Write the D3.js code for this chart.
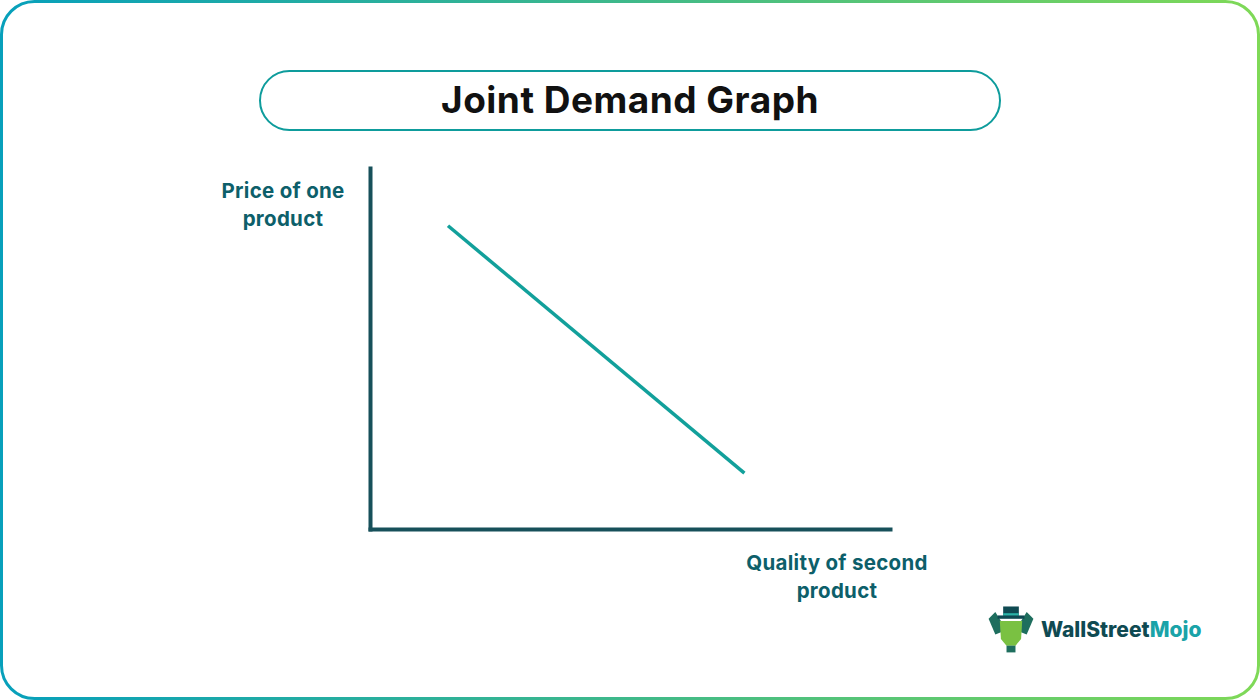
<!DOCTYPE html>
<html>
<head>
<meta charset="utf-8">
<script src="https://cdn.jsdelivr.net/npm/d3@7"></script>
<style>
  html, body { margin: 0; padding: 0; background: #ffffff; }
  svg { display: block; }
</style>
</head>
<body>
<svg id="chart" width="1260" height="700"></svg>
<script>
// ---- data ----
const chartTitle = "Joint Demand Graph";
const yAxisLabel = ["Price of one", "product"];
const xAxisLabel = ["Quality of second", "product"];
const quantity = [1.5, 7.2];      // x values of the demand line ends
const price = [8.4, 1.55];        // y values of the demand line ends
const brandParts = ["WallStreet", "Mojo"];

const svg = d3.select("#chart");
const W = 1260, H = 700;

// ---- gradient border ----
const defs = svg.append("defs");
const grad = defs.append("linearGradient").attr("id", "borderGrad")
  .attr("x1", "0%").attr("y1", "0%").attr("x2", "100%").attr("y2", "0%");
grad.append("stop").attr("offset", "0%").attr("stop-color", "#07a0bb");
grad.append("stop").attr("offset", "50%").attr("stop-color", "#3fb98a");
grad.append("stop").attr("offset", "100%").attr("stop-color", "#7fd957");

svg.append("rect")
  .attr("x", 1.5).attr("y", 1.5).attr("width", W - 3).attr("height", H - 3)
  .attr("rx", 33).attr("ry", 33)
  .attr("fill", "#ffffff").attr("stroke", "url(#borderGrad)").attr("stroke-width", 3);

// ---- title box ----
svg.append("rect")
  .attr("x", 260).attr("y", 71).attr("width", 740).attr("height", 59)
  .attr("rx", 29.5).attr("ry", 29.5)
  .attr("fill", "#ffffff").attr("stroke", "#0e9c9c").attr("stroke-width", 2);
svg.append("text")
  .attr("x", 630).attr("y", 113)
  .attr("text-anchor", "middle")
  .attr("font-family", "Inter, 'Open Sans', sans-serif")
  .attr("font-weight", 700)
  .attr("font-size", 37)
  .attr("letter-spacing", "0.5px")
  .attr("fill", "#111111")
  .text(chartTitle);

// ---- scales ----
const x = d3.scaleLinear().domain([0, 10]).range([370, 890]);
const y = d3.scaleLinear().domain([0, 10]).range([529, 168]);

// ---- axes (plain lines, no ticks) ----
const axisColor = "#17505a";
const xAxis = d3.axisBottom(x).tickValues([]).tickSizeOuter(0);
const yAxis = d3.axisLeft(y).tickValues([]).tickSizeOuter(0);
const gx = svg.append("g").attr("transform", `translate(0,${y(0)})`).call(xAxis);
const gy = svg.append("g").attr("transform", `translate(${x(0)},0)`).call(yAxis);
[gx, gy].forEach(g => g.select(".domain")
  .attr("stroke", axisColor).attr("stroke-width", 4).attr("stroke-linecap", "square"));

// ---- demand line ----
const pts = quantity.map((q, i) => [q, price[i]]);
svg.append("path")
  .datum(pts)
  .attr("d", d3.line().x(d => x(d[0])).y(d => y(d[1])))
  .attr("fill", "none")
  .attr("stroke", "#12a09b")
  .attr("stroke-width", 3.5);

// ---- axis labels ----
const labelColor = "#0d5f6a";
const lblFont = "Inter, 'Open Sans', sans-serif";
const yl = svg.append("text")
  .attr("text-anchor", "middle")
  .attr("font-family", lblFont).attr("font-weight", 700)
  .attr("font-size", 20.5).attr("letter-spacing", "0.3px").attr("fill", labelColor);
yAxisLabel.forEach((t, i) => yl.append("tspan").attr("x", 283).attr("y", 198 + i * 28).text(t));

const xl = svg.append("text")
  .attr("text-anchor", "middle")
  .attr("font-family", lblFont).attr("font-weight", 700)
  .attr("font-size", 20.5).attr("letter-spacing", "0.3px").attr("fill", labelColor);
xAxisLabel.forEach((t, i) => xl.append("tspan").attr("x", 837).attr("y", 570 + i * 28).text(t));

// ---- logo ----
const logo = svg.append("g").attr("transform", "translate(1011,630) scale(1.12)");
// arms
logo.append("path").attr("d", "M-20,-10 L-14,-16 L-9,-8 L-9,2 L-14,4 Z").attr("fill", "#1e6e5e");
logo.append("path").attr("d", "M20,-10 L14,-16 L9,-8 L9,2 L14,4 Z").attr("fill", "#1e6e5e");
// body
logo.append("path").attr("d", "M-10,-8 L10,-8 L9,8 L4,14 L-4,14 L-9,8 Z").attr("fill", "#7ac142");
logo.append("rect").attr("x", -4).attr("y", 14).attr("width", 8).attr("height", 6).attr("fill", "#1e6e5e");
// hat
logo.append("rect").attr("x", -12).attr("y", -13).attr("width", 24).attr("height", 3).attr("fill", "#0f4a52");
logo.append("rect").attr("x", -7).attr("y", -21).attr("width", 14).attr("height", 9).attr("fill", "#0f4a52");
logo.append("rect").attr("x", -7).attr("y", -15).attr("width", 14).attr("height", 2).attr("fill", "#2bb3a8");

const brand = svg.append("text")
  .attr("x", 1041).attr("y", 637)
  .attr("font-family", "Inter, 'Open Sans', sans-serif")
  .attr("font-weight", 800).attr("font-size", 21);
brand.append("tspan").attr("fill", "#0f4a52").text(brandParts[0]);
brand.append("tspan").attr("fill", "#1aa3a8").text(brandParts[1]);
</script>
</body>
</html>
